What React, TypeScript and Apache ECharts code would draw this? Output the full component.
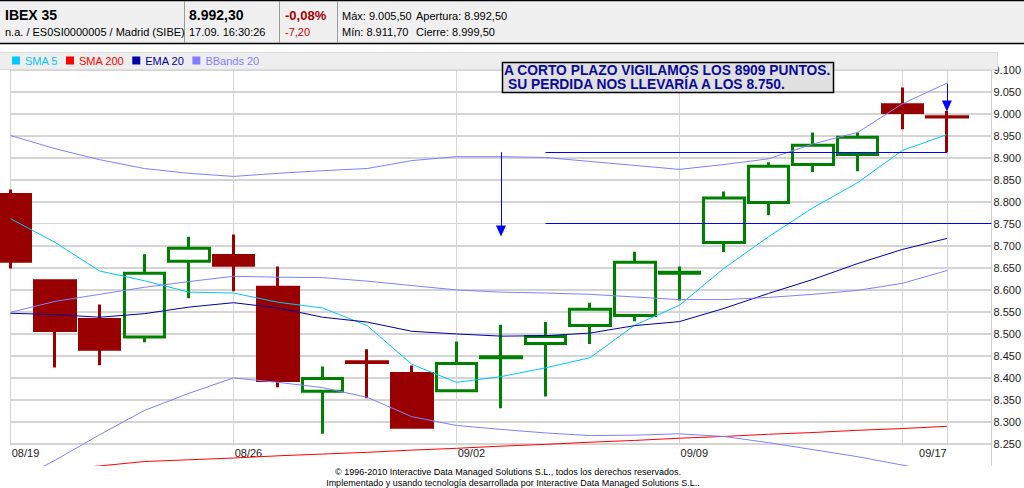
import React, { useEffect, useRef } from 'react';
import * as echarts from 'echarts';

// ---------- data ----------
const dates = ['08/19', '08/20', '08/23', '08/24', '08/25', '08/26', '08/27', '08/30', '08/31', '09/01', '09/02',
  '09/03', '09/06', '09/07', '09/08', '09/09', '09/10', '09/13', '09/14', '09/15', '09/16', '09/17'];

const opens = [8816, 8620, 8532, 8492, 8664, 8677, 8605, 8369, 8436, 8409, 8370,
  8445, 8477, 8518, 8541, 8637, 8707, 8798, 8884, 8907, 9020, 8992.5];
const closes = [8664, 8507, 8464, 8637, 8694, 8655, 8393, 8398, 8434, 8287, 8432,
  8447, 8493, 8555, 8662, 8639, 8808, 8880, 8928, 8946, 9002, 8992.3];
const lows = [8648, 8423, 8428, 8480, 8580, 8596, 8378, 8272, 8353, 8287, 8369,
  8330, 8357, 8476, 8528, 8575, 8685, 8769, 8867, 8869, 8964, 8911.7];
const highs = [8827, 8621, 8566, 8680, 8720, 8725, 8652, 8425, 8464, 8427, 8482,
  8520, 8526, 8570, 8686, 8652, 8823, 8889, 8957, 8957, 9059, 9005.5];

const sma5 = [8761, 8707, 8642, 8620, 8594, 8592, 8571, 8558, 8518, 8430, 8389,
  8402, 8422, 8445, 8519, 8564, 8648, 8720, 8786, 8843, 8916, 8952];
const sma200 = [8182, 8190, 8199, 8209, 8213, 8217, 8222, 8226, 8230, 8235, 8239,
  8244, 8248, 8253, 8257, 8262, 8266, 8271, 8275, 8280, 8284, 8289];
const ema20 = [8546, 8543, 8537, 8545, 8560, 8570, 8558, 8537, 8526, 8505, 8499,
  8494, 8495, 8501, 8518, 8527, 8557, 8591, 8623, 8659, 8691, 8716];
const bbUpper = [8950, 8920, 8895, 8875, 8864, 8857, 8864, 8870, 8875, 8893, 8902,
  8902, 8900, 8891, 8882, 8873, 8884, 8897, 8931, 8957, 9022, 9069];
const bbMiddle = [8548, 8573, 8589, 8605, 8618, 8630, 8628, 8627, 8619, 8609, 8599,
  8594, 8592, 8589, 8583, 8577, 8577, 8582, 8589, 8598, 8614, 8643];
const bbLower = [8159, 8212, 8270, 8325, 8364, 8399, 8389, 8377, 8355, 8311, 8291,
  8282, 8274, 8268, 8269, 8272, 8266, 8252, 8236, 8220, 8201, 8182];

const labelDates = ['08/19', '08/26', '09/02', '09/09', '09/17'];
const gridDates = ['08/19', '08/26', '09/02', '09/09', '09/16', '09/17'];

const yMin = 8200;
const yMax = 9100;
const yStep = 50;
const yFirstTick = 8250;
const vGridBottom = 8245;

const supportLevel = 8911.7;
const targetLevel = 8750;
const arrowDown1 = { date: '09/03', from: 8912, to: 8733 };
const arrowDown2 = { date: '09/17', from: 9068, to: 9017 };
const levelStart = '09/06';
const supportEnd = '09/17';

const headerName = 'IBEX 35';
const headerSub = 'n.a. / ES0SI0000005 / Madrid (SIBE)';
const headerPrice = '8.992,30';
const headerTime = '17.09. 16:30:26';
const headerPct = '-0,08%';
const headerChg = '-7,20';
const headerStats = [['Máx: 9.005,50', 'Apertura: 8.992,50'], ['Mín: 8.911,70', 'Cierre: 8.999,50']];
const noteLines = ['A CORTO PLAZO VIGILAMOS LOS 8909 PUNTOS.', 'SU PERDIDA NOS LLEVARÍA A LOS 8.750.'];
const footerLines = [
  '© 1996-2010 Interactive Data Managed Solutions S.L., todos los derechos reservados.',
  'Implementado y usando tecnología desarrollada por Interactive Data Managed Solutions S.L..',
];

const FONT = '"Liberation Sans", Arial, Helvetica, sans-serif';
const GRID_COLOR = '#d4d4d4';

export default function App() {
  const ref = useRef<HTMLDivElement>(null);

  useEffect(() => {
    if (!ref.current) return;
    const chart = echarts.init(ref.current, null, { renderer: 'svg' });
    const cats = [...dates, ''];
    const idx = (d: string) => dates.indexOf(d);
    const lastCat = cats.length - 1;
    const yTicks: number[] = [];
    for (let v = yFirstTick; v <= yMax; v += yStep) yTicks.push(v);

    const lineSeries = (name: string, data: number[], color: string) => ({
      type: 'line',
      name,
      data,
      symbol: 'none',
      showSymbol: false,
      smooth: false,
      lineStyle: { color, width: 1 },
      itemStyle: { color },
      emphasis: { disabled: true },
      z: 3,
    });

    const baseGraphic: any[] = [
      // header band
      { type: 'rect', z: 1, shape: { x: 0, y: 0, width: 1024, height: 44 }, style: { fill: '#f0f0f0' } },
      { type: 'line', z: 2, shape: { x1: 0, y1: 0.5, x2: 1024, y2: 0.5 }, style: { stroke: '#000', lineWidth: 1.5 } },
      { type: 'line', z: 2, shape: { x1: 0, y1: 43.5, x2: 1024, y2: 43.5 }, style: { stroke: '#000', lineWidth: 1.5 } },
      ...[184.5, 279.5, 337.5].map((x) => ({
        type: 'line', z: 2, shape: { x1: x, y1: 1, x2: x, y2: 43 }, style: { stroke: '#9a9a9a', lineWidth: 1 },
      })),
      { type: 'text', z: 3, style: { x: 5, y: 15, text: headerName, font: `bold 14px ${FONT}`, fill: '#000', verticalAlign: 'middle' } },
      { type: 'text', z: 3, style: { x: 5, y: 32, text: headerSub, font: `11px ${FONT}`, fill: '#000', verticalAlign: 'middle' } },
      { type: 'text', z: 3, style: { x: 189, y: 15, text: headerPrice, font: `bold 14px ${FONT}`, fill: '#000', verticalAlign: 'middle' } },
      { type: 'text', z: 3, style: { x: 189, y: 32, text: headerTime, font: `11px ${FONT}`, fill: '#000', verticalAlign: 'middle' } },
      { type: 'text', z: 3, style: { x: 285, y: 15, text: headerPct, font: `bold 13px ${FONT}`, fill: '#aa0000', verticalAlign: 'middle' } },
      { type: 'text', z: 3, style: { x: 285, y: 32, text: headerChg, font: `11px ${FONT}`, fill: '#cc0000', verticalAlign: 'middle' } },
      ...headerStats.flatMap((row, r) => [
        { type: 'text', z: 3, style: { x: 342, y: 16 + r * 16, text: row[0], font: `11px ${FONT}`, fill: '#000', verticalAlign: 'middle' } },
        { type: 'text', z: 3, style: { x: 416, y: 16 + r * 16, text: row[1], font: `11px ${FONT}`, fill: '#000', verticalAlign: 'middle' } },
      ]),
      // legend strip
      { type: 'rect', z: 1, shape: { x: -1, y: 52.5, width: 998.5, height: 17 }, style: { fill: '#eeeeee', stroke: '#dcdcdc', lineWidth: 1 } },
      // note box
      { type: 'rect', z: 50, shape: { x: 502.5, y: 62.5, width: 331, height: 30 }, style: { fill: '#e0e0e0', stroke: '#000', lineWidth: 1.5 } },
      { type: 'text', z: 51, style: { x: 504, y: 70, text: noteLines[0], font: `bold 13.8px ${FONT}`, fill: '#0a0a9a', verticalAlign: 'middle' } },
      { type: 'text', z: 51, style: { x: 508, y: 84, text: noteLines[1], font: `bold 13.8px ${FONT}`, fill: '#0a0a9a', verticalAlign: 'middle' } },
      // footer
      { type: 'text', z: 3, style: { x: 508, y: 472, text: footerLines[0], font: `9px ${FONT}`, fill: '#000', align: 'center', verticalAlign: 'middle' } },
      { type: 'text', z: 3, style: { x: 513, y: 483, text: footerLines[1], font: `9px ${FONT}`, fill: '#000', align: 'center', verticalAlign: 'middle' } },
    ];

    const option: any = {
      animation: false,
      backgroundColor: '#ffffff',
      textStyle: { fontFamily: FONT },
      grid: { left: 10.5, right: 32, top: 69.5, bottom: 22.5 },
      legend: {
        left: 12,
        top: 55,
        icon: 'rect',
        itemWidth: 8,
        itemHeight: 8,
        itemGap: 8,
        padding: 0,
        selectedMode: false,
        textStyle: { fontSize: 11, fontFamily: FONT },
        data: [
          { name: 'SMA 5', textStyle: { color: '#00c8f8' } },
          { name: 'SMA 200', textStyle: { color: '#ff0000' } },
          { name: 'EMA 20', textStyle: { color: '#0000a8' } },
          { name: 'BBands 20', textStyle: { color: '#8080ff' } },
        ],
      },
      xAxis: {
        type: 'category',
        data: cats,
        boundaryGap: false,
        axisLine: { show: false },
        axisTick: { show: false },
        splitLine: { show: false },
        axisLabel: {
          interval: (i: number) => labelDates.includes(cats[i]),
          margin: -18,
          color: '#222',
          fontSize: 11,
          fontFamily: FONT,
          formatter: (v: string) => (v === dates[dates.length - 1] ? `{r|${v}}` : `{l|${v}}`),
          rich: {
            l: { padding: [0, 0, 0, 30], fontSize: 11, color: '#222', fontFamily: FONT },
            r: { padding: [0, 28, 0, 0], fontSize: 11, color: '#222', fontFamily: FONT },
          },
        },
      },
      yAxis: {
        type: 'value',
        position: 'right',
        min: yMin,
        max: yMax,
        interval: yStep,
        axisLine: { show: true, lineStyle: { color: '#cfcfcf' } },
        axisTick: { show: false },
        splitLine: { show: true, showMinLine: false, lineStyle: { color: GRID_COLOR, width: 1 } },
        axisLabel: {
          margin: 2,
          color: '#222',
          fontSize: 11,
          fontFamily: FONT,
          formatter: (v: number) => (v < yFirstTick ? '' : (v / 1000).toFixed(3)),
        },
      },
      series: [
        {
          // vertical grid lines
          type: 'line',
          name: 'grid',
          data: [],
          silent: true,
          z: 1,
          markLine: {
            silent: true,
            animation: false,
            z: 1,
            symbol: ['none', 'none'],
            label: { show: false },
            emphasis: { disabled: true },
            lineStyle: { color: GRID_COLOR, width: 1, type: 'solid' },
            data: gridDates.map((d) => [{ coord: [idx(d), vGridBottom] }, { coord: [idx(d), yMax] }]),
          },
        },
        {
          type: 'candlestick',
          name: 'IBEX 35',
          data: dates.map((_, i) => [opens[i], closes[i], lows[i], highs[i]]),
          barWidth: 41,
          clip: false,
          emphasis: { disabled: true },
          itemStyle: {
            color: 'rgba(0,0,0,0)',
            color0: '#990000',
            borderColor: '#008000',
            borderColor0: '#990000',
            borderWidth: 3,
          },
          z: 2,
          markLine: {
            silent: true,
            animation: false,
            symbol: ['none', 'none'],
            label: { show: false },
            emphasis: { disabled: true },
            lineStyle: { color: '#0000ff', width: 1, type: 'solid' },
            data: [
              [{ coord: [idx(levelStart), supportLevel] }, { coord: [idx(supportEnd), supportLevel] }],
              [{ coord: [idx(levelStart), targetLevel] }, { coord: [lastCat, targetLevel] }],
              [
                { coord: [idx(arrowDown1.date), arrowDown1.from] },
                { coord: [idx(arrowDown1.date), arrowDown1.to], symbol: 'triangle', symbolSize: [10, 11] },
              ],
              [
                { coord: [idx(arrowDown2.date), arrowDown2.from] },
                { coord: [idx(arrowDown2.date), arrowDown2.to], symbol: 'triangle', symbolSize: [10, 11] },
              ],
            ],
          },
        },
        lineSeries('SMA 5', sma5, '#00c8f8'),
        lineSeries('SMA 200', sma200, '#ff0000'),
        lineSeries('EMA 20', ema20, '#0000a8'),
        lineSeries('BBands 20', bbUpper, '#8080ff'),
        lineSeries('BBands 20', bbMiddle, '#8080ff'),
        lineSeries('BBands 20', bbLower, '#8080ff'),
      ],
      graphic: baseGraphic,
    };

    chart.setOption(option);

    // horizontal grid lines placed through the chart's own y scale
    try {
      const xa = chart.convertToPixel({ xAxisIndex: 0 }, 0) as number;
      const xb = chart.convertToPixel({ xAxisIndex: 0 }, lastCat) as number;
      const hLines = yTicks.map((v) => {
        const y = Math.round(chart.convertToPixel({ yAxisIndex: 0 }, v) as number) + 0.5;
        return {
          type: 'line',
          z: 1,
          silent: true,
          shape: { x1: xa, y1: y, x2: xb, y2: y },
          style: { stroke: GRID_COLOR, lineWidth: 1 },
        };
      });
      if (hLines.every((l) => isFinite(l.shape.y1) && isFinite(xa) && isFinite(xb))) {
        chart.setOption({ graphic: [...baseGraphic, ...hLines] });
      }
    } catch (e) {
      // keep chart as is
    }

    return () => chart.dispose();
  }, []);

  return <div ref={ref} style={{ position: 'absolute', left: 0, top: 0, width: 1024, height: 488 }} />;
}
